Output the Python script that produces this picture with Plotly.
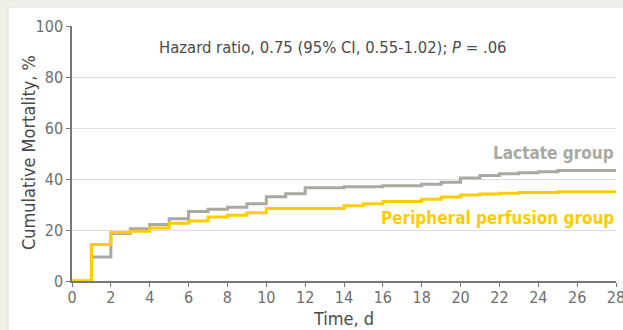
import plotly.graph_objects as go

# Data
days_lactate = [0, 1, 2, 3, 4, 5, 6, 7, 8, 9, 10, 11, 12, 14, 16, 18, 19, 20, 21, 22, 23, 24, 25, 28]
mort_lactate = [0, 9.4, 18.6, 20.5, 22.2, 24.4, 27.3, 28.1, 28.9, 30.3, 33.0, 34.2, 36.6, 37.0, 37.4, 37.9, 38.7, 40.4, 41.4, 42.1, 42.5, 42.8, 43.3, 43.3]

days_perf = [0, 1, 2, 3, 4, 5, 6, 7, 8, 9, 10, 14, 15, 16, 18, 19, 20, 21, 22, 23, 25, 28]
mort_perf = [0, 14.3, 19.0, 19.5, 20.8, 22.6, 23.5, 25.1, 25.8, 26.8, 28.4, 29.5, 30.3, 31.2, 32.1, 32.9, 33.7, 34.1, 34.4, 34.7, 35.0, 35.0]

x_ticks = list(range(0, 29, 2))
y_ticks = [0, 20, 40, 60, 80, 100]

FONT = "Liberation Sans Narrow, DejaVu Sans Condensed, Roboto, sans-serif"
GRAY = "#a9a9a2"
YELLOW = "#ffcc00"
TICK = "#6e6e6e"
TITLE = "#4a4a4a"

fig = go.Figure()
fig.add_trace(go.Scatter(x=days_lactate, y=mort_lactate, mode="lines",
                         line=dict(shape="hv", color=GRAY, width=3), showlegend=False))
fig.add_trace(go.Scatter(x=days_perf, y=mort_perf, mode="lines",
                         line=dict(shape="hv", color=YELLOW, width=3), showlegend=False))

# white panel on beige background
fig.add_shape(type="rect", xref="paper", yref="paper",
              x0=(8 - 72) / 544, x1=1.05, y0=-0.25, y1=(281 - 7) / 255,
              fillcolor="white", line=dict(color="#e4e3da", width=1), layer="below")

fig.add_annotation(x=(157 - 72) / 544, y=(281 - 47) / 255, xref="paper", yref="paper",
                   xanchor="left", yanchor="middle", showarrow=False,
                   text="Hazard ratio, 0.75 (95% CI, 0.55-1.02); <i>P</i> = .06",
                   font=dict(family=FONT, size=16.5, color=TITLE))
fig.add_annotation(x=28, y=50.3, xref="x", yref="y", xanchor="right", yanchor="middle",
                   showarrow=False, text="<b>Lactate group</b>",
                   font=dict(family=FONT, size=17, color=GRAY))
fig.add_annotation(x=28, y=24.7, xref="x", yref="y", xanchor="right", yanchor="middle",
                   showarrow=False, text="<b>Peripheral perfusion group</b>",
                   font=dict(family=FONT, size=17, color=YELLOW))
# axis titles
fig.add_annotation(x=(28 - 72) / 544, y=(281 - 153) / 255, xref="paper", yref="paper",
                   xanchor="center", yanchor="middle", showarrow=False, textangle=-90,
                   text="Cumulative Mortality, %",
                   font=dict(family=FONT, size=18, color=TITLE))
fig.add_annotation(x=(343 - 72) / 544, y=(281 - 318) / 255, xref="paper", yref="paper",
                   xanchor="center", yanchor="middle", showarrow=False,
                   text="Time, d",
                   font=dict(family=FONT, size=18, color=TITLE))

fig.update_layout(
    width=623, height=330,
    margin=dict(l=72, r=7, t=26, b=49, autoexpand=False),
    paper_bgcolor="#f1f0e8",
    plot_bgcolor="white",
    font=dict(family=FONT, color=TICK),
    xaxis=dict(range=[0, 28], tickvals=x_ticks, ticks="outside", ticklen=4, tickcolor="#777",
               showline=True, linecolor="#777", linewidth=1.5, showgrid=False, zeroline=False,
               tickfont=dict(size=16, color=TICK), ticklabeloverflow="allow", automargin=False,
               ticklabelstandoff=-3),
    yaxis=dict(range=[0, 100], tickvals=y_ticks, ticks="outside", ticklen=4, tickcolor="#777",
               showline=True, linecolor="#777", linewidth=1.5, showgrid=True, gridcolor="#dedede",
               gridwidth=1, zeroline=False, tickfont=dict(size=16, color=TICK), automargin=False),
)

fig.write_html("out.html")
